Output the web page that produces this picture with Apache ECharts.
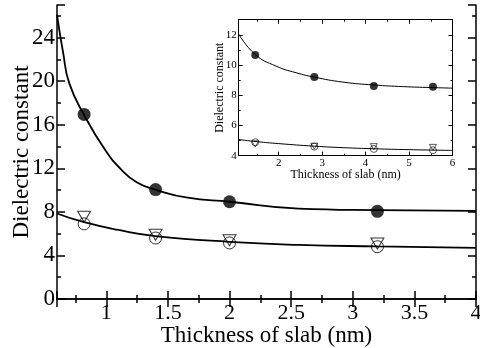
<!DOCTYPE html>
<html>
<head>
<meta charset="utf-8">
<script src="https://cdn.jsdelivr.net/npm/echarts@6/dist/echarts.min.js"></script>
<style>
  html, body { margin: 0; padding: 0; background: #fff; }
  #chart { width: 480px; height: 348px; }
</style>
</head>
<body>
<div id="chart"></div>
<script>
// ---- main panel: dielectric constant vs slab thickness ----
const mainFilledX = [0.82, 1.4, 2.0, 3.2];
const mainFilledY = [16.95, 10.05, 8.93, 8.05];
const mainOpenCircleX = [0.82, 1.4, 2.0, 3.2];
const mainOpenCircleY = [6.9, 5.6, 5.15, 4.8];
const mainTriangleX = [0.82, 1.4, 2.0, 3.2];
const mainTriangleY = [7.55, 5.9, 5.4, 5.1];
// fitted curves
const mainFitTopX = [0.6, 0.65, 0.70, 0.82, 0.99, 1.12, 1.25, 1.41, 1.66, 2.0, 2.56, 3.2, 4.0];
const mainFitTopY = [26.1, 22.6, 19.8, 16.9, 13.7, 11.9, 10.7, 10.0, 9.3, 8.93, 8.3, 8.16, 8.1];
const mainFitLowX = [0.6, 0.82, 1.1, 1.4, 2.0, 2.56, 3.2, 4.0];
const mainFitLowY = [7.85, 7.05, 6.34, 5.78, 5.25, 4.97, 4.83, 4.7];

// ---- inset panel ----
const insetFilledX = [1.46, 2.82, 4.19, 5.55];
const insetFilledY = [10.67, 9.21, 8.62, 8.57];
const insetOpenCircleX = [1.46, 2.82, 4.19, 5.55];
const insetOpenCircleY = [4.89, 4.6, 4.45, 4.36];
const insetTriangleX = [1.46, 2.82, 4.19, 5.55];
const insetTriangleY = [4.78, 4.63, 4.6, 4.55];
const insetFitTopX = [1.08, 1.46, 1.94, 2.4, 2.82, 3.48, 4.19, 4.87, 5.5, 6.0];
const insetFitTopY = [12.05, 10.7, 9.93, 9.49, 9.2, 8.87, 8.68, 8.57, 8.51, 8.47];
const insetFitLowX = [1.08, 1.5, 2.0, 2.82, 3.5, 4.19, 5.0, 6.0];
const insetFitLowY = [5.07, 4.93, 4.8, 4.63, 4.53, 4.46, 4.4, 4.35];

const xLabels = { mainStep: 0.5, insetStep: 1 };
const xTitle = 'Thickness of slab (nm)';
const yTitle = 'Dielectric constant';

const FONT = 'Liberation Serif';
const pairs = (xs, ys) => xs.map((x, i) => [x, ys[i]]);
const onStep = (v, step) => Math.abs(v / step - Math.round(v / step)) < 1e-6;

function frameAxis(base, extra) {
  return Object.assign({
    type: 'value',
    splitLine: { show: false },
    axisLine: { show: true, lineStyle: { color: '#000', width: base.lw } },
    axisTick: { show: true, inside: true, length: base.tick, lineStyle: { color: '#000', width: base.lw } },
    minorTick: { show: true, splitNumber: 2, length: base.minor, lineStyle: { color: '#000', width: base.lw } },
    axisLabel: { show: false },
    nameMoveOverlap: false
  }, extra);
}

const mainBase = { lw: 1.5, tick: 8, minor: 4 };
const insetBase = { lw: 1, tick: 4, minor: 2 };

function fitLine(xi, yi, xs, ys, width, z) {
  return {
    type: 'line', xAxisIndex: xi, yAxisIndex: yi, z: z, data: pairs(xs, ys),
    smooth: 0.5, showSymbol: false, symbol: 'none',
    lineStyle: { color: '#000', width: width }, silent: true
  };
}

const option = {
  animation: false,
  backgroundColor: '#fff',
  grid: [
    { left: 57, top: 5, width: 419, height: 294, show: false, outerBoundsMode: 'none', containLabel: false },
    { left: 238.7, top: 19.7, width: 213.8, height: 136, show: true, backgroundColor: '#fff', borderWidth: 0, z: 5,
      outerBoundsMode: 'none', containLabel: false }
  ],
  xAxis: [
    frameAxis(mainBase, {
      gridIndex: 0, position: 'bottom', min: 0.6, max: 4, splitNumber: 7,
      axisLabel: {
        show: true, color: '#000', fontFamily: FONT, fontSize: 22, margin: 3,
        formatter: v => onStep(v, xLabels.mainStep) ? String(+v.toFixed(2)) : ''
      },
      name: xTitle, nameLocation: 'middle', nameGap: 25,
      nameTextStyle: { color: '#000', fontFamily: FONT, fontSize: 23 }
    }),
    frameAxis(mainBase, { gridIndex: 0, position: 'top', min: 0.6, max: 4, splitNumber: 7 }),
    frameAxis(insetBase, {
      gridIndex: 1, position: 'bottom', min: 1.08, max: 6, splitNumber: 5, z: 6,
      axisLabel: {
        show: true, color: '#000', fontFamily: FONT, fontSize: 11, margin: 2,
        formatter: v => onStep(v, xLabels.insetStep) ? String(Math.round(v)) : ''
      },
      name: xTitle, nameLocation: 'middle', nameGap: 13,
      nameTextStyle: { color: '#000', fontFamily: FONT, fontSize: 12 }
    }),
    frameAxis(insetBase, { gridIndex: 1, position: 'top', min: 1.08, max: 6, splitNumber: 5, z: 6 })
  ],
  yAxis: [
    frameAxis(mainBase, {
      gridIndex: 0, position: 'left', min: 0, max: 27, interval: 4,
      axisLabel: {
        show: true, color: '#000', fontFamily: FONT, fontSize: 23, margin: 2,
        formatter: v => onStep(v, 4) ? String(v) : ''
      },
      name: yTitle, nameLocation: 'middle', nameGap: 24,
      nameTextStyle: { color: '#000', fontFamily: FONT, fontSize: 23 }
    }),
    frameAxis(mainBase, { gridIndex: 0, position: 'right', min: 0, max: 27, interval: 4 }),
    frameAxis(insetBase, {
      gridIndex: 1, position: 'left', min: 4, max: 13, interval: 2, z: 6,
      axisLabel: {
        show: true, color: '#000', fontFamily: FONT, fontSize: 11, margin: 2,
        formatter: v => onStep(v, 2) ? String(v) : ''
      },
      name: yTitle, nameLocation: 'middle', nameGap: 13,
      nameTextStyle: { color: '#000', fontFamily: FONT, fontSize: 12 }
    }),
    frameAxis(insetBase, { gridIndex: 1, position: 'right', min: 4, max: 13, interval: 2, z: 6 })
  ],
  series: [
    // main panel
    fitLine(0, 0, mainFitTopX, mainFitTopY, 1.8, 2),
    fitLine(0, 0, mainFitLowX, mainFitLowY, 1.8, 2),
    { type: 'scatter', xAxisIndex: 0, yAxisIndex: 0, data: pairs(mainFilledX, mainFilledY),
      symbol: 'circle', symbolSize: 13, itemStyle: { color: '#000' } },
    { type: 'scatter', xAxisIndex: 0, yAxisIndex: 0, data: pairs(mainOpenCircleX, mainOpenCircleY),
      symbol: 'circle', symbolSize: 12, itemStyle: { color: 'rgba(0,0,0,0)', borderColor: '#000', borderWidth: 1 } },
    { type: 'scatter', xAxisIndex: 0, yAxisIndex: 0, data: pairs(mainTriangleX, mainTriangleY),
      symbol: 'triangle', symbolRotate: 180, symbolSize: [13, 11], itemStyle: { color: 'rgba(0,0,0,0)', borderColor: '#000', borderWidth: 1 } },
    // inset panel
    fitLine(2, 2, insetFitTopX, insetFitTopY, 1, 7),
    fitLine(2, 2, insetFitLowX, insetFitLowY, 1, 7),
    { type: 'scatter', xAxisIndex: 2, yAxisIndex: 2, z: 7, data: pairs(insetFilledX, insetFilledY),
      symbol: 'circle', symbolSize: 8, itemStyle: { color: '#000' } },
    { type: 'scatter', xAxisIndex: 2, yAxisIndex: 2, z: 7, data: pairs(insetOpenCircleX, insetOpenCircleY),
      symbol: 'circle', symbolSize: 7, itemStyle: { color: 'rgba(0,0,0,0)', borderColor: '#000', borderWidth: 0.8 } },
    { type: 'scatter', xAxisIndex: 2, yAxisIndex: 2, z: 7, data: pairs(insetTriangleX, insetTriangleY),
      symbol: 'triangle', symbolRotate: 180, symbolSize: [7, 6], itemStyle: { color: 'rgba(0,0,0,0)', borderColor: '#000', borderWidth: 0.8 } }
  ]
};

const chart = echarts.init(document.getElementById('chart'), null, { renderer: 'canvas' });
chart.setOption(option);
</script>
</body>
</html>
